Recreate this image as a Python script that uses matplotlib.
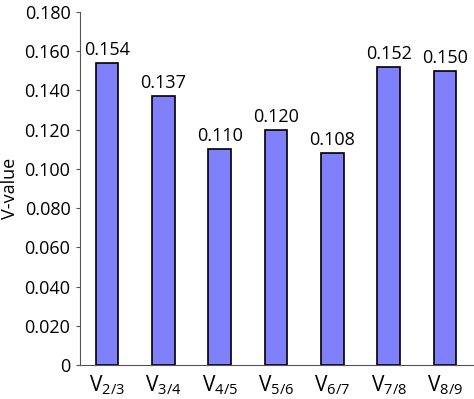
import matplotlib
matplotlib.use('Agg')
import matplotlib.pyplot as plt
import numpy as np

# V-values per ratio
labels = ['2/3', '3/4', '4/5', '5/6', '6/7', '7/8', '8/9']
values = [0.154, 0.137, 0.110, 0.120, 0.108, 0.152, 0.150]
yticks = [0, 0.020, 0.040, 0.060, 0.080, 0.100, 0.120, 0.140, 0.160, 0.180]

plt.rcParams['font.family'] = ['Open Sans', 'DejaVu Sans']
plt.rcParams['mathtext.fontset'] = 'custom'
plt.rcParams['mathtext.rm'] = 'Open Sans'

fig = plt.figure(figsize=(4.74, 3.99), dpi=100)
ax = fig.add_axes([0.169, 0.085, 0.829, 0.885])

x = np.arange(len(values))
bars = ax.bar(x, values, width=0.4, color='#8080fa', edgecolor='black', linewidth=1.2)

for xi, v in zip(x, values):
    ax.text(xi, v + 0.002, f'{v:.3f}', ha='center', va='bottom', fontsize=13)

ax.set_xlim(-0.48, 6.5)
ax.set_ylim(0, 0.180)
ax.set_yticks(yticks)
ax.set_yticklabels(['0'] + [f'{t:.3f}' for t in yticks[1:]], fontsize=13)
ax.set_xticks(x)
ax.set_xticklabels([r'$\mathregular{V_{' + l + '}}$' for l in labels], fontsize=15)
ax.tick_params(axis='x', length=0, pad=6)
ax.tick_params(axis='y', length=3, width=0.8, color='#555555', pad=4)
ax.set_ylabel('V-value', fontsize=13, labelpad=4)

ax.spines['top'].set_visible(False)
ax.spines['right'].set_visible(False)
ax.spines['left'].set_color('#555555')
ax.spines['bottom'].set_color('#555555')

fig.savefig('out.png', dpi=100)
